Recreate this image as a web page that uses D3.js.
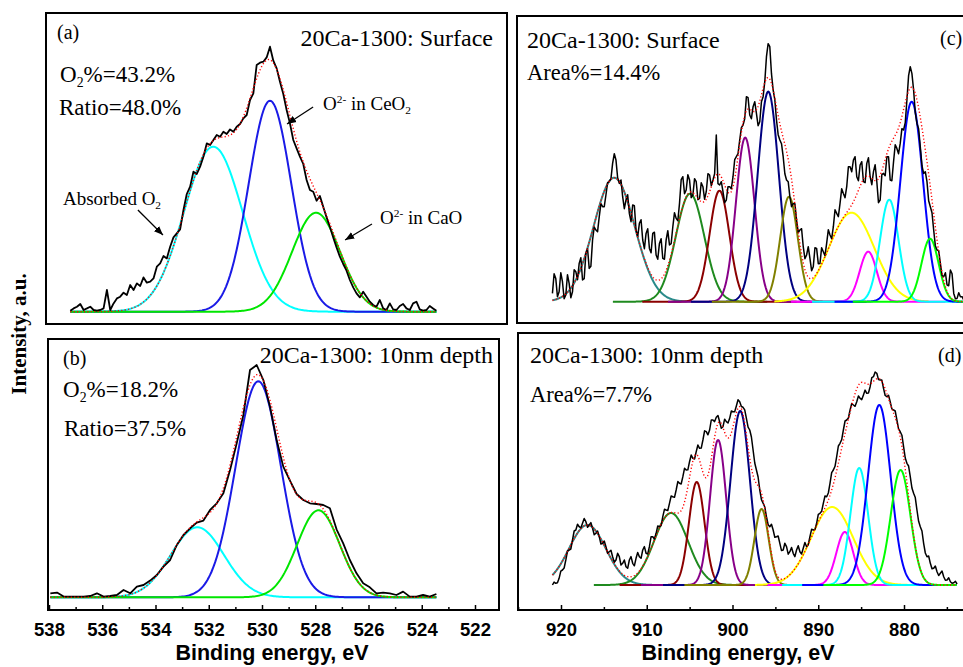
<!DOCTYPE html>
<html>
<head>
<meta charset="utf-8">
<script src="https://cdn.jsdelivr.net/npm/d3@7"></script>
<style>
  body { margin: 0; background: #fff; }
  .serif { font-family: "Liberation Serif", "Times New Roman", serif; }
  .sans { font-family: "Liberation Sans", Arial, sans-serif; font-weight: bold; }
</style>
</head>
<body>
<div id="chart"></div>
<script>
// 20Ca-1300 XPS: O 1s (left) and Ce 3d (right), surface vs 10nm depth

// measured spectra, binding energy goes down from *Start by *Step per point
const o1sSurfStart = 537.2, o1sSurfStep = 0.125
const o1sSurfCounts = [1, 3.3, 5, 7.7, 1.7, 3.3, 5, 1.7, 1, 1.7,
    3.3, 21.7, 1.7, 8.3, 13.3, 15, 19, 16.7, 26.7, 21.7,
    28.3, 25.7, 34.3, 29, 30, 33.3, 45, 48.3, 55.7, 53.3,
    65, 74.3, 78.3, 82.3, 101.7, 117.7, 125, 140, 137.7, 145,
    155, 168.3, 166.7, 171.7, 176.7, 175, 180, 177.7, 182.3, 180,
    185, 187.7, 193.3, 196.7, 211.7, 218.3, 246.7, 249, 250, 254.3,
    265, 251, 243.3, 230, 217.7, 201.7, 188.3, 171.7, 163.3, 155,
    147.7, 131.7, 121.7, 120, 111, 115.7, 105, 94.3, 85, 74.3,
    64.3, 55, 47.7, 41, 31.7, 24.3, 18.3, 14.3, 20, 15,
    10, 6.7, 5, 11.7, 3.3, 1.7, 8.3, 2.3, 1.7, 5.7,
    7.7, 3.3, 1.7, 8.3, 10, 2.3, 1, 1.7, 5.7, 3.3, 1]

const o1sDepthStart = 537.95, o1sDepthStep = 0.25
const o1sDepthCounts = [4, 4.7, 0.7, 0.7, 0.7, 0.7, 1.3, 4, 0.7, 1.3,
    2.3, 7.3, 4, 10.7, 12.3, 16.7, 22.3, 30.7, 37.3, 52.3,
    62.3, 69, 74.7, 76.7, 87.3, 94, 104, 127.3, 154, 182.3,
    227.3, 232.3, 217.3, 190.7, 157.3, 130.7, 116.7, 103.3, 97.3, 94,
    93.3, 92.3, 89, 68, 54, 37.3, 24, 14, 10, 4,
    4.7, 4, 2.3, 5.7, 0.7, 0.7, 2.3, 0.7, 3.3]

const ce3dStart = 921.0, ce3dStep = 0.195
const ce3dSurfCounts = [8.3, 28, 23.3, 5, 10, 29, 20, 3, 6.7, 27,
    18.3, 4, 10, 32, 30, 22, 38.3, 44, 21.7, 23,
    48.3, 53, 33.3, 35.5, 61.7, 74.7, 71.7, 70, 85, 98,
    95, 95, 106.7, 119, 120, 123, 138.3, 148, 141.7, 124,
    118.3, 121.7, 105, 93, 101.7, 107, 88.3, 80, 96.7, 96,
    71.7, 65, 78.3, 82, 61.7, 53, 68.3, 73, 53.3, 49,
    68.3, 69.5, 46.7, 42.5, 58.3, 63, 43.3, 42.5, 61.7, 71,
    56.7, 58, 75, 89, 83.3, 81, 98.3, 122, 125, 108,
    111.7, 127, 121.7, 104, 106.7, 123, 120, 102, 103.3, 119,
    115, 102.5, 110, 128, 126.7, 116, 121.7, 128, 166.7, 118,
    116.7, 120, 110, 99, 101.7, 115, 115, 113, 125, 142,
    145, 148, 161.7, 174, 176.7, 183, 205, 204, 186.7, 183,
    195, 200, 188.3, 176, 180, 200, 205, 220, 245, 258,
    255, 228, 211.7, 202, 181.7, 167, 161.7, 158, 145, 128,
    121.7, 120, 105, 95, 98.3, 98, 81.7, 69, 71.7, 73,
    55, 43, 46.7, 55, 43.3, 31, 35, 54, 53.3, 38,
    38.3, 54, 50, 46, 58.3, 72, 66.7, 63, 75, 92,
    88.3, 85, 98.3, 113, 108.3, 104, 115, 135, 135, 130,
    141.7, 145, 125, 121, 136.7, 140, 120, 119, 138.3, 144,
    125, 117, 130, 137, 120, 99, 101.7, 127, 128.3, 126,
    145, 145, 121.7, 121, 140, 157, 153.3, 148, 158.3, 173,
    171.7, 179, 201.7, 226, 235, 228, 211.7, 189, 178.3, 173,
    155, 136, 128.3, 130, 120, 101, 95, 89, 71.7, 56,
    51.7, 51, 38.3, 26, 25, 29, 16.7, 16, 31.7, 28,
    8.3, 3, 3.3, 9, 5, 5, 1.7]
const ce3dDepthCounts = [0, 2.9, 1.7, 2.2, 6.7, 13.9, 15, 17, 25, 34,
    35, 36, 45, 54, 55, 60.7, 58.3, 57, 61.7, 66.5,
    63.3, 57.7, 60, 62.4, 56.7, 50.2, 51.7, 54, 48.3, 41,
    41.7, 44, 38.3, 31.8, 33.3, 34.8, 28.3, 22.7, 25, 31.7,
    28.3, 20, 21.7, 25, 18.3, 16.7, 25, 28.4, 21.7, 19.2,
    26.7, 32.5, 28.3, 26.7, 35, 38.4, 31.7, 31, 38.3, 48.3,
    48.3, 46, 51.7, 59, 58.3, 59.3, 68.3, 75.7, 75, 74.4,
    81.7, 89, 88.3, 87.7, 95, 103.4, 101.7, 101, 108.3, 116.7,
    115, 115.2, 123.3, 130, 126.7, 126, 133.3, 140, 136.7, 136.9,
    145, 154.2, 153.3, 150.2, 155, 165, 165, 163.4, 167.7, 169.5,
    163.3, 156.8, 158.3, 165.8, 163.3, 162, 166.7, 174, 173.3, 173.2,
    179, 185.2, 183.3, 178.5, 177.7, 175.2, 166.7, 157.9, 155, 148,
    135, 122, 115, 108, 95, 85.4, 81.7, 78, 68.3, 60.3,
    58.3, 60.7, 55, 47.7, 48.3, 49, 41.7, 34.4, 35, 41.7,
    38.3, 30.8, 33.3, 37.5, 31.7, 28.4, 35, 39.2, 33.3, 31,
    36.7, 42.5, 38.3, 40.3, 48.3, 55.7, 55, 55.4, 61.7, 70.7,
    71.7, 73.7, 81.7, 89, 88.3, 92, 101.7, 112.4, 115, 118.7,
    128.3, 139, 141.7, 145.4, 155, 164, 165, 167, 175, 181.5,
    180, 178.7, 183.3, 189, 186.7, 185.4, 190, 194.9, 191.7, 192,
    198.3, 207.3, 208.3, 213, 211.7, 205.4, 205, 204.9, 196.7, 189.5,
    188.3, 189.8, 183.3, 176.2, 175, 174, 165, 156.2, 153.3, 149.8,
    138.3, 127, 121.7, 119, 108.3, 97, 91.7, 87.4, 75, 63.7,
    58.3, 54, 41.7, 32, 28.3, 29, 21.7, 16.2, 16.7, 19,
    13.3, 9.5, 11.7, 14, 8.3, 4.7, 5, 7.2, 3.3, 1.8,
    2.3, 3.7, 1]

// fitted gaussian components: centre (eV), height, sigma (eV)
const o1sSurfCentres = [531.83, 529.70, 527.97]
const o1sSurfHeights = [165, 211, 99]
const o1sSurfSigmas = [1.1, 0.8, 0.9]

const o1sDepthCentres = [532.43, 530.14, 527.88]
const o1sDepthHeights = [70, 216, 87]
const o1sDepthSigmas = [1.0, 0.85, 0.8]

const ce3dSurfCentres = [913.8, 904.95, 901.52, 898.52, 895.83, 893.41, 886.12, 884.17, 881.72, 879.1, 876.96]
const ce3dSurfHeights = [124, 108, 111, 164, 210, 105, 89, 50, 102, 200, 63]
const ce3dSurfSigmas = [2.4, 1.66, 1.16, 1.08, 1.24, 1.03, 2.65, 1.0, 1.08, 1.32, 1.0]

const ce3dDepthCentres = [916.92, 907.17, 904.17, 901.68, 899.1, 896.61, 888.38, 886.9, 885.22, 882.88, 880.4]
const ce3dDepthHeights = [60, 72, 103, 145, 174, 76, 78, 53, 117, 180, 115]
const ce3dDepthSigmas = [2.15, 1.99, 0.91, 0.94, 1.13, 0.83, 2.45, 0.99, 1.03, 1.32, 1.15]

const o1sTicks = [538, 536, 534, 532, 530, 528, 526, 524, 522]
const o1sMinor = [537, 535, 533, 531, 529, 527, 525, 523]
const ce3dTicks = [920, 910, 900, 890, 880]
const ce3dMinor = [925, 915, 905, 895, 885, 875, 870]

const o1sColors = ["#00ffff", "#1a1ae6", "#00e600"]
const ce3dColors = ["#2a8a8a", "#1f8a1f", "#8b0000", "#880088", "#000080", "#808000",
    "#ffff00", "#ff00ff", "#00ffff", "#0000ff", "#00ff00"]

const width = 963, height = 667

const svg = d3.select("#chart").append("svg")
    .attr("width", width)
    .attr("height", height)

const defs = svg.append("defs")
defs.append("marker")
    .attr("id", "arrow")
    .attr("viewBox", "0 0 10 10")
    .attr("refX", 10).attr("refY", 5)
    .attr("markerWidth", 7).attr("markerHeight", 7)
    .attr("orient", "auto")
    .append("path").attr("d", "M0,1 L10,5 L0,9 z").attr("fill", "#000")

const xO = d3.scaleLinear().domain([538, 522]).range([49, 475])
const xCe = d3.scaleLinear().domain([920, 880]).range([561, 904])

const yA = d3.scaleLinear().domain([0, 265]).range([311.7, 46.7])
const yB = d3.scaleLinear().domain([0, 232]).range([597.3, 365.3])
const yC = d3.scaleLinear().domain([0, 255]).range([301.7, 46.7])
const yD = d3.scaleLinear().domain([0, 212]).range([585, 373])

function gauss(e, c, h, s) {
    return h * Math.exp(-(e - c) * (e - c) / (2 * s * s))
}

function drawSpectrum(id, box, x, y, start, step, counts, centres, heights, sigmas, colors, span, lw) {
    const clip = defs.append("clipPath").attr("id", "clip" + id)
    clip.append("rect").attr("x", box.x).attr("y", box.y).attr("width", box.w).attr("height", box.h)

    const g = svg.append("g").attr("clip-path", "url(#clip" + id + ")")
    const energies = counts.map(function (c, i) { return start - i * step })
    const eHi = energies[0], eLo = energies[energies.length - 1]
    const line = d3.line().x(function (d) { return x(d[0]) }).y(function (d) { return y(d[1]) })

    // components
    centres.forEach(function (c, k) {
        const lo = Math.max(eLo, c - span), hi = Math.min(eHi, c + span)
        const pts = d3.range(hi, lo - 0.001, -0.05).map(function (e) {
            return [e, gauss(e, c, heights[k], sigmas[k])]
        })
        g.append("path")
            .attr("d", line(pts))
            .attr("fill", "none")
            .attr("stroke", colors[k])
            .attr("stroke-width", 2)
    })

    // raw spectrum
    g.append("path")
        .attr("d", line(energies.map(function (e, i) { return [e, counts[i]] })))
        .attr("fill", "none")
        .attr("stroke", "#000")
        .attr("stroke-width", lw)
        .attr("stroke-linejoin", "round")

    // fit envelope
    const env = d3.range(eHi, eLo - 0.001, -0.05).map(function (e) {
        return [e, d3.sum(centres, function (c, k) { return gauss(e, c, heights[k], sigmas[k]) })]
    })
    g.append("path")
        .attr("d", line(env))
        .attr("fill", "none")
        .attr("stroke", "#ff0000")
        .attr("stroke-width", 1.4)
        .attr("stroke-dasharray", "1.2,2.2")

    svg.append("rect")
        .attr("x", box.x).attr("y", box.y)
        .attr("width", box.w).attr("height", box.h)
        .attr("fill", "none")
        .attr("stroke", "#000")
        .attr("stroke-width", 2)
}

function addText(x, y, parts, size, anchor) {
    const t = svg.append("text")
        .attr("class", "serif")
        .attr("x", x).attr("y", y)
        .attr("font-size", size)
        .attr("text-anchor", anchor || "start")
    // parts: [text, shift] where shift is 0, "sub" or "sup"
    let cur = 0
    parts.forEach(function (p) {
        let target = 0, fs = size
        if (p[1] === "sub") { target = size * 0.22; fs = size * 0.6 }
        if (p[1] === "sup") { target = -size * 0.38; fs = size * 0.6 }
        t.append("tspan").attr("dy", target - cur).attr("font-size", fs).text(p[0])
        cur = target
    })
    return t
}

function addAxis(yPos, x, major, minor) {
    svg.append("g")
        .attr("transform", "translate(0," + yPos + ")")
        .call(d3.axisBottom(x).tickValues(major).tickSize(-5).tickPadding(13).tickFormat(d3.format("d")))
        .call(function (a) {
            a.select(".domain").remove()
            a.selectAll("line").attr("stroke", "#000").attr("stroke-width", 1.5)
            a.selectAll("text").attr("font-size", 18.5).attr("fill", "#000")
                .attr("font-family", "Liberation Sans, Arial, sans-serif").attr("font-weight", "bold")
        })
    svg.append("g")
        .attr("transform", "translate(0," + yPos + ")")
        .call(d3.axisBottom(x).tickValues(minor).tickSize(-3).tickFormat(""))
        .call(function (a) {
            a.select(".domain").remove()
            a.selectAll("line").attr("stroke", "#000").attr("stroke-width", 1.5)
        })
}

const boxA = { x: 46, y: 13, w: 461, h: 311 }
const boxB = { x: 48, y: 339, w: 451, h: 271 }
const boxC = { x: 517, y: 16, w: 460, h: 307 }
const boxD = { x: 518, y: 333, w: 460, h: 277 }

drawSpectrum("a", boxA, xO, yA, o1sSurfStart, o1sSurfStep, o1sSurfCounts,
    o1sSurfCentres, o1sSurfHeights, o1sSurfSigmas, o1sColors, 20, 1.8)
drawSpectrum("b", boxB, xO, yB, o1sDepthStart, o1sDepthStep, o1sDepthCounts,
    o1sDepthCentres, o1sDepthHeights, o1sDepthSigmas, o1sColors, 20, 1.8)
drawSpectrum("c", boxC, xCe, yC, ce3dStart, ce3dStep, ce3dSurfCounts,
    ce3dSurfCentres, ce3dSurfHeights, ce3dSurfSigmas, ce3dColors, 9, 1.5)
drawSpectrum("d", boxD, xCe, yD, ce3dStart, ce3dStep, ce3dDepthCounts,
    ce3dDepthCentres, ce3dDepthHeights, ce3dDepthSigmas, ce3dColors, 9, 1.5)

addAxis(610, xO, o1sTicks, o1sMinor)
addAxis(610, xCe, ce3dTicks, ce3dMinor)

// annotation arrows in panel (a), given in data space
const arrowFrom = [[534.66, 101.7], [528.08, 204.7], [525.87, 87.7]]
const arrowTo = [[533.72, 76.7], [529.06, 187.7], [526.88, 71.7]]
arrowFrom.forEach(function (f, i) {
    svg.append("line")
        .attr("x1", xO(f[0])).attr("y1", yA(f[1]))
        .attr("x2", xO(arrowTo[i][0])).attr("y2", yA(arrowTo[i][1]))
        .attr("stroke", "#000").attr("stroke-width", 1.3)
        .attr("marker-end", "url(#arrow)")
})

// panel texts
addText(57, 39, [["(a)", 0]], 20)
addText(493, 46, [["20Ca-1300: Surface", 0]], 24, "end")
addText(60, 82, [["O", 0], ["2", "sub"], ["%=43.2%", 0]], 23)
addText(59, 115, [["Ratio=48.0%", 0]], 23)
addText(323, 110, [["O", 0], ["2-", "sup"], [" in CeO", 0], ["2", "sub"]], 19)
addText(63, 205, [["Absorbed O", 0], ["2", "sub"]], 19)
addText(380, 224, [["O", 0], ["2-", "sup"], [" in CaO", 0]], 19)

addText(63, 365, [["(b)", 0]], 20)
addText(493, 363, [["20Ca-1300: 10nm depth", 0]], 24, "end")
addText(63, 397, [["O", 0], ["2", "sub"], ["%=18.2%", 0]], 23)
addText(64, 436, [["Ratio=37.5%", 0]], 23)

addText(527, 48, [["20Ca-1300: Surface", 0]], 24)
addText(527, 80, [["Area%=14.4%", 0]], 22.5)
addText(940, 45, [["(c)", 0]], 20)

addText(530, 363, [["20Ca-1300: 10nm depth", 0]], 24)
addText(530, 402, [["Area%=7.7%", 0]], 22.5)
addText(938, 362, [["(d)", 0]], 20)

// axis titles
svg.append("text").attr("class", "sans")
    .attr("x", 272).attr("y", 660).attr("text-anchor", "middle")
    .attr("font-size", 21.5).text("Binding energy, eV")
svg.append("text").attr("class", "sans")
    .attr("x", 738).attr("y", 660).attr("text-anchor", "middle")
    .attr("font-size", 21.5).text("Binding energy, eV")
svg.append("text").attr("class", "serif")
    .attr("transform", "translate(26,334) rotate(-90)")
    .attr("text-anchor", "middle")
    .attr("font-size", 21).attr("font-weight", "bold")
    .text("Intensity, a.u.")
</script>
</body>
</html>
